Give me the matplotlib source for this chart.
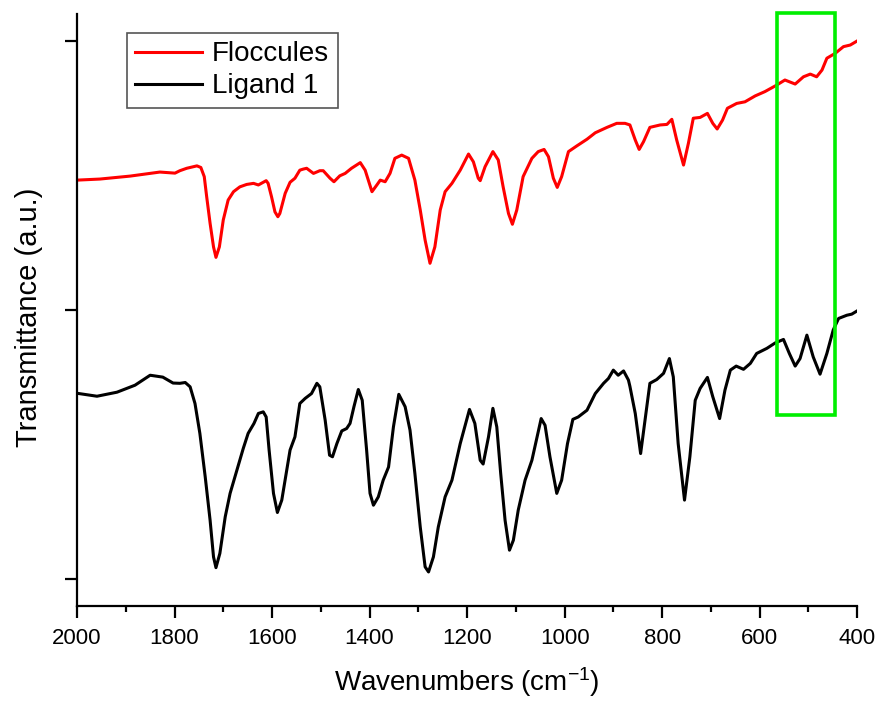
import matplotlib
matplotlib.use("Agg")
import matplotlib.pyplot as plt
from matplotlib.patches import Rectangle

plt.rcParams['font.family'] = ['Liberation Sans', 'DejaVu Sans']
plt.rcParams['mathtext.fontset'] = 'custom'
plt.rcParams['mathtext.rm'] = 'Liberation Sans'
plt.rcParams['mathtext.default'] = 'regular'

# FTIR spectra, wavenumber (cm-1) vs transmittance (arbitrary units)
floc_wn = [2000, 1953, 1891, 1830, 1799, 1789, 1775, 1754, 1746, 1739, 1734, 1727,
           1720, 1715, 1708, 1700, 1690, 1679, 1666, 1652, 1638, 1628, 1612, 1608,
           1601, 1594, 1588, 1584, 1573, 1563, 1553, 1543, 1536, 1529, 1515, 1502,
           1495, 1481, 1473, 1461, 1450, 1437, 1419, 1409, 1395, 1385, 1378, 1368,
           1358, 1348, 1334, 1320, 1307, 1296, 1286, 1276, 1266, 1255, 1245, 1231,
           1214, 1197, 1187, 1177, 1173, 1163, 1147, 1136, 1126, 1115, 1107, 1098,
           1085, 1067, 1054, 1042, 1033, 1023, 1015, 1006, 992, 975, 954, 937, 913,
           893, 876, 866, 855, 847, 838, 825, 804, 790, 780, 770, 756, 746, 736,
           722, 707, 696, 687, 676, 666, 647, 630, 609, 589, 568, 548, 527, 510,
           496, 483, 472, 462, 445, 428, 414, 400]
floc_t = [1.483, 1.487, 1.498, 1.513, 1.509, 1.518, 1.527, 1.536, 1.530, 1.496,
          1.421, 1.322, 1.235, 1.196, 1.235, 1.335, 1.409, 1.440, 1.458, 1.467,
          1.471, 1.465, 1.481, 1.471, 1.421, 1.365, 1.347, 1.359, 1.434, 1.475,
          1.490, 1.520, 1.524, 1.527, 1.508, 1.518, 1.518, 1.490, 1.477, 1.499,
          1.508, 1.527, 1.548, 1.520, 1.440, 1.465, 1.483, 1.477, 1.508, 1.564,
          1.576, 1.564, 1.483, 1.372, 1.260, 1.174, 1.235, 1.372, 1.440, 1.471,
          1.520, 1.580, 1.551, 1.490, 1.481, 1.533, 1.589, 1.558, 1.458, 1.359,
          1.319, 1.372, 1.496, 1.564, 1.589, 1.597, 1.570, 1.490, 1.456, 1.496,
          1.589, 1.610, 1.635, 1.659, 1.679, 1.694, 1.694, 1.688, 1.632, 1.597,
          1.626, 1.679, 1.688, 1.690, 1.709, 1.632, 1.539, 1.620, 1.713, 1.716,
          1.731, 1.694, 1.673, 1.706, 1.750, 1.768, 1.774, 1.796, 1.812, 1.833,
          1.855, 1.840, 1.867, 1.877, 1.867, 1.892, 1.936, 1.954, 1.979, 1.985,
          2.000]

lig_wn = [2000, 1959, 1918, 1881, 1850, 1824, 1803, 1789, 1778, 1768, 1758, 1748,
          1737, 1727, 1720, 1715, 1707, 1696, 1686, 1672, 1659, 1649, 1637, 1628,
          1618, 1612, 1606, 1597, 1589, 1580, 1571, 1563, 1553, 1543, 1532, 1519,
          1508, 1502, 1491, 1482, 1476, 1467, 1457, 1447, 1440, 1432, 1423, 1415,
          1406, 1399, 1392, 1382, 1372, 1361, 1351, 1340, 1327, 1317, 1307, 1296,
          1286, 1279, 1269, 1259, 1245, 1231, 1214, 1195, 1184, 1173, 1167, 1156,
          1147, 1139, 1131, 1122, 1113, 1105, 1095, 1081, 1067, 1057, 1048, 1040,
          1030, 1016, 1006, 994, 983, 972, 954, 937, 920, 910, 900, 890, 879, 869,
          866, 855, 844, 835, 825, 811, 797, 785, 777, 767, 754, 743, 732, 722,
          707, 696, 682, 671, 660, 648, 633, 619, 606, 585, 568, 551, 539, 527,
          517, 503, 490, 476, 462, 449, 438, 421, 411, 400]
lig_t = [0.691, 0.680, 0.695, 0.721, 0.758, 0.751, 0.729, 0.728, 0.731, 0.715,
         0.653, 0.542, 0.380, 0.219, 0.083, 0.043, 0.096, 0.232, 0.319, 0.405,
         0.486, 0.542, 0.579, 0.616, 0.622, 0.603, 0.480, 0.319, 0.248, 0.294,
         0.393, 0.480, 0.529, 0.653, 0.672, 0.690, 0.728, 0.715, 0.591, 0.461,
         0.455, 0.504, 0.551, 0.560, 0.579, 0.641, 0.705, 0.665, 0.480, 0.319,
         0.275, 0.306, 0.368, 0.417, 0.566, 0.687, 0.641, 0.554, 0.393, 0.194,
         0.046, 0.027, 0.083, 0.194, 0.306, 0.368, 0.504, 0.631, 0.579, 0.442,
         0.428, 0.529, 0.635, 0.566, 0.393, 0.219, 0.108, 0.145, 0.257, 0.368,
         0.442, 0.523, 0.597, 0.572, 0.455, 0.319, 0.368, 0.504, 0.594, 0.603,
         0.628, 0.690, 0.728, 0.746, 0.777, 0.758, 0.774, 0.740, 0.717, 0.616,
         0.467, 0.591, 0.728, 0.742, 0.765, 0.820, 0.752, 0.504, 0.294, 0.455,
         0.665, 0.709, 0.750, 0.678, 0.597, 0.703, 0.777, 0.792, 0.780, 0.802,
         0.839, 0.858, 0.878, 0.891, 0.839, 0.792, 0.820, 0.907, 0.826, 0.762,
         0.839, 0.926, 0.969, 0.981, 0.985, 0.997]

# highlighted region
box_wn = (564, 445)
box_t = (0.61, 2.104)

fig = plt.figure(figsize=(8.78, 7.04), dpi=100)
ax = fig.add_axes([0.0877, 0.139, 0.8885, 0.841])

ax.plot(floc_wn, floc_t, color='#ff0000', lw=2.2, label='Floccules', solid_joinstyle='round')
ax.plot(lig_wn, lig_t, color='black', lw=2.2, label='Ligand 1', solid_joinstyle='round')

ax.add_patch(Rectangle((box_wn[1], box_t[0]), box_wn[0] - box_wn[1], box_t[1] - box_t[0],
                       fill=False, edgecolor='#00ee00', lw=2.6, clip_on=False, zorder=5))

ax.set_xlim(2000, 400)
ax.set_ylim(-0.1, 2.1)
ax.set_xticks(range(2000, 399, -200))
ax.set_xticks(range(1900, 399, -200), minor=True)
ax.set_yticks([0, 1, 2])
ax.set_yticklabels([])

ax.spines['top'].set_visible(False)
ax.spines['right'].set_visible(False)
ax.spines['left'].set_linewidth(1.6)
ax.spines['bottom'].set_linewidth(1.6)
ax.tick_params(which='major', direction='out', length=8.5, width=1.6, labelsize=16, pad=7)
ax.tick_params(which='minor', direction='out', length=4.5, width=1.6)

ax.set_xlabel('Wavenumbers (cm$^{-1}$)', fontsize=20, labelpad=12)
ax.set_ylabel('Transmittance (a.u.)', fontsize=21)
ax.yaxis.set_label_coords(-0.043, 0.488)

leg = ax.legend(loc='upper left', bbox_to_anchor=(0.064, 0.968), fontsize=20,
                fancybox=False, edgecolor='#555555', framealpha=1,
                handlelength=2.42, handletextpad=0.35, borderpad=0.3,
                labelspacing=0.22, borderaxespad=0)
leg.get_frame().set_linewidth(1.2)

fig.savefig('out.png', dpi=100)
